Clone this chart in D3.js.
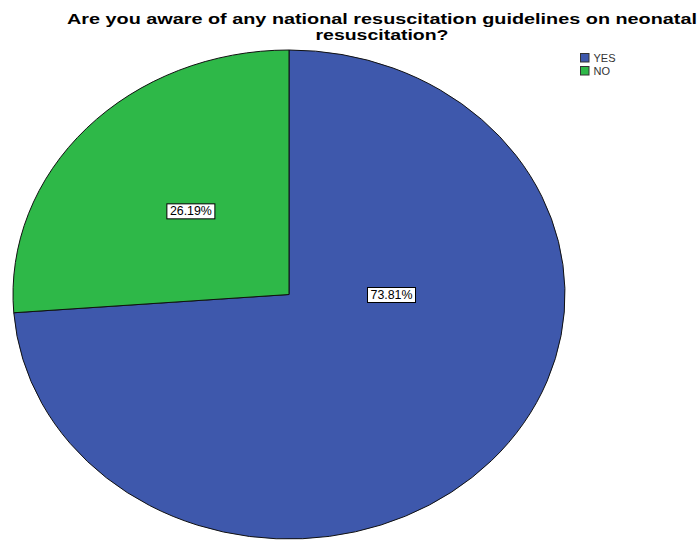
<!DOCTYPE html>
<html>
<head>
<meta charset="utf-8">
<script src="https://cdn.jsdelivr.net/npm/d3@7"></script>
<style>
  body { margin: 0; background: #fff; }
  svg { display: block; font-family: "Liberation Sans", Arial, sans-serif; }
</style>
</head>
<body>
<svg id="chart"></svg>
<script>
// data
const categories = ["YES", "NO"];
const percents = [73.81, 26.19];
const sliceColors = ["#3E58AC", "#2EB848"];
const titleLines = ["Are you aware of any national resuscitation guidelines on neonatal", "resuscitation?"];

const width = 698, height = 541;
const svg = d3.select('svg#chart')
    .attr('width', width)
    .attr('height', height);

// pie is drawn as a circle then squashed into an ellipse
const cx = 289, cy = 294.5;
const rx = 276, ry = 244.5;

const slices = categories.map((c, i) => ({ cat: c, value: percents[i], color: sliceColors[i] }));

const pie = d3.pie()
    .sort(null)
    .value(d => d.value);

const arc = d3.arc()
    .innerRadius(0)
    .outerRadius(rx);

const pieG = svg.append('g')
    .attr('transform', `translate(${cx},${cy}) scale(1,${ry / rx})`);

const arcs = pie(slices);

pieG.selectAll('path.slice')
    .data(arcs)
    .enter().append('path')
    .classed('slice', true)
    .attr('d', arc)
    .attr('fill', d => d.data.color)
    .attr('stroke', '#111')
    .attr('stroke-width', 1)
    .attr('vector-effect', 'non-scaling-stroke');

// value labels (SPSS nudges the big slice label over to the right)
const labelShift = { YES: [102.5, 0.5], NO: null };
const labelG = svg.append('g');

arcs.forEach(d => {
    let x, y;
    if (labelShift[d.data.cat]) {
        x = cx + labelShift[d.data.cat][0];
        y = cy + labelShift[d.data.cat][1];
    } else {
        const c = arc.centroid(d);
        x = cx + c[0] * 0.97;
        y = cy + c[1] * ry / rx;
    }
    const txt = d.data.value.toFixed(2) + '%';
    labelG.append('rect')
        .attr('x', x - 24)
        .attr('y', y - 7.5)
        .attr('width', 48)
        .attr('height', 15)
        .attr('fill', '#fff')
        .attr('stroke', '#000')
        .attr('stroke-width', 1);
    labelG.append('text')
        .attr('x', x)
        .attr('y', y)
        .attr('text-anchor', 'middle')
        .attr('dominant-baseline', 'central')
        .attr('font-size', 12)
        .attr('fill', '#000')
        .attr('textLength', 42)
        .attr('lengthAdjust', 'spacingAndGlyphs')
        .text(txt);
});

// title (SPSS renders it a bit wider than Arial)
const titleLens = [630, 133];
svg.append('g')
    .selectAll('text')
    .data(titleLines)
    .enter().append('text')
    .attr('x', 382)
    .attr('y', (d, i) => 24 + i * 16)
    .attr('text-anchor', 'middle')
    .attr('font-size', 15.5)
    .attr('font-weight', 'bold')
    .attr('fill', '#000')
    .attr('textLength', (d, i) => titleLens[i])
    .attr('lengthAdjust', 'spacingAndGlyphs')
    .text(d => d);

// legend
const legend = svg.append('g')
    .attr('transform', 'translate(580.5,53.5)');

const item = legend.selectAll('g')
    .data(slices)
    .enter().append('g')
    .attr('transform', (d, i) => `translate(0,${i * 13})`);

item.append('rect')
    .attr('width', 8.5)
    .attr('height', 8.5)
    .attr('fill', d => d.color)
    .attr('stroke', '#333');

item.append('text')
    .attr('x', 13)
    .attr('y', 8.5)
    .attr('font-size', 11)
    .attr('fill', '#333')
    .text(d => d.cat);
</script>
</body>
</html>
